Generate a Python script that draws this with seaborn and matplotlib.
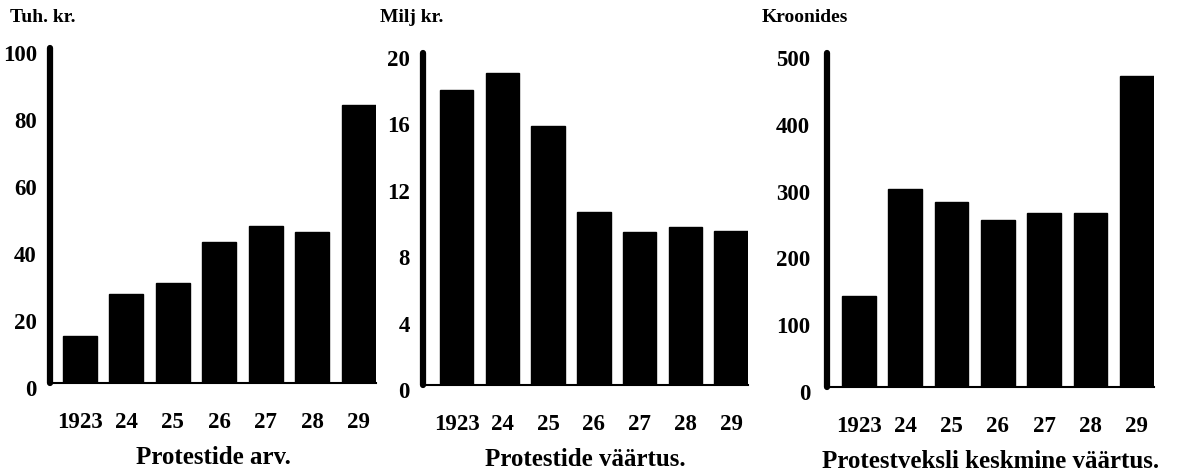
import matplotlib
matplotlib.use("Agg")
import matplotlib.pyplot as plt
from matplotlib.transforms import ScaledTranslation
import seaborn as sns
import pandas as pd

years = ["1923", "24", "25", "26", "27", "28", "29"]
count_thousands = [14, 26.5, 30, 42, 47, 45, 83]
value_millions = [17.8, 18.8, 15.6, 10.4, 9.2, 9.5, 9.3]
avg_value_kroons = [136, 296, 277, 250, 260, 260, 465]

units = ["Tuh. kr.", "Milj kr.", "Kroonides"]
titles = ["Protestide arv.", "Protestide väärtus.", "Protestveksli keskmine väärtus."]
yticks = [[0, 20, 40, 60, 80, 100], [0, 4, 8, 12, 16, 20], [0, 100, 200, 300, 400, 500]]
series = [count_thousands, value_millions, avg_value_kroons]

sns.set_theme(style="white")
plt.rcParams["font.family"] = ["Liberation Serif", "DejaVu Serif"]
plt.rcParams["font.weight"] = "bold"
plt.rcParams["text.color"] = "black"
plt.rcParams["axes.labelcolor"] = "black"
plt.rcParams["xtick.color"] = "black"
plt.rcParams["ytick.color"] = "black"

fig = plt.figure(figsize=(11.82, 4.73), dpi=100)

W, H = 1182, 473
boxes = [(50, 376, 48, 383), (423, 748, 53, 385), (827, 1154, 53, 387)]
xlefts = [-0.645, -0.735, -0.685]
ypads = [9.5, 9.5, 12]
unit_pos = [(10, 17), (380, 18), (762, 18)]

for i in range(3):
    l, r, t, b = boxes[i]
    ax = fig.add_axes([l / W, 1 - b / H, (r - l) / W, (b - t) / H])
    df = pd.DataFrame({"year": years, "value": series[i]})
    sns.barplot(data=df, x="year", y="value", color="black", saturation=1,
                width=0.73, ax=ax, edgecolor="black")
    ax.set_xlim(xlefts[i], 6.37)
    ax.set_ylim(0, yticks[i][-1])
    ax.set_yticks(yticks[i])
    ax.set_yticklabels([str(v) for v in yticks[i]])
    for s in ["top", "right"]:
        ax.spines[s].set_visible(False)
    ax.spines["left"].set_linewidth(4.5)
    ax.spines["left"].set_color("black")
    ax.spines["left"].set_capstyle("round")
    ax.spines["bottom"].set_linewidth(1.5)
    ax.spines["bottom"].set_color("black")
    ax.tick_params(axis="y", length=0, pad=ypads[i], labelsize=16.5)
    ax.tick_params(axis="x", length=0, pad=21, labelsize=16.5)
    off = ScaledTranslation(0, -0.05, fig.dpi_scale_trans)
    for lab in ax.get_yticklabels():
        lab.set_transform(lab.get_transform() + off)
    ax.set_ylabel("")
    ax.set_xlabel(titles[i], fontsize=18, fontweight="bold", labelpad=9)
    ux, uy = unit_pos[i]
    fig.text(ux / W, 1 - uy / H, units[i], fontsize=14, fontweight="bold",
             ha="left", va="center")

fig.savefig("out.png", dpi=100)
